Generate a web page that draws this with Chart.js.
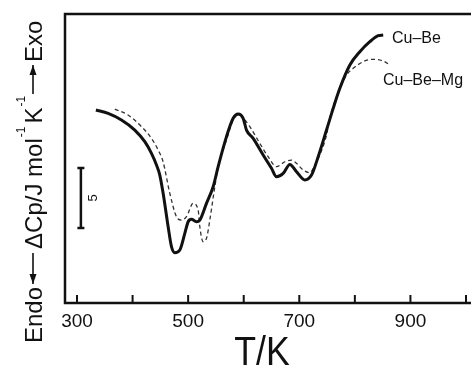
<!DOCTYPE html>
<html>
<head>
<meta charset="utf-8">
<script src="https://cdn.jsdelivr.net/npm/chart.js@4"></script>
<style>
  body { margin: 0; background: #fff; }
  canvas { display: block; }
</style>
</head>
<body>
<canvas id="myChart" width="471" height="369"></canvas>
<script>
// temperature (K) and relative ΔCp (J mol-1 K-1, arbitrary offset)
const cuBeT = [334, 356, 380, 404, 422, 434, 443, 449, 455, 464, 470, 476, 485, 494, 500, 506, 515, 521,
  533, 545, 554, 569, 581, 590, 599, 605, 617, 635, 650, 659, 671, 683, 695, 710, 722, 734, 749, 761,
  773, 791, 809, 827, 842, 851];
const cuBeCp = [16.0, 15.72, 15.17, 14.33, 13.36, 12.39, 11.42, 10.58, 9.06, 6.28, 4.61, 4.11, 4.33, 5.72,
  6.69, 6.89, 6.69, 6.83, 8.22, 9.61, 11.28, 13.78, 15.31, 15.67, 15.31, 14.33, 13.64, 12.25, 11.14,
  10.44, 10.72, 11.47, 10.86, 10.17, 10.58, 12.11, 14.33, 16.14, 17.81, 19.75, 20.86, 21.69, 22.19, 22.25];

const cuBeMgT = [368, 392, 416, 434, 446, 455, 467, 479, 488, 497, 509, 518, 521, 527, 533, 539, 548, 554,
  569, 581, 590, 602, 611, 629, 644, 659, 674, 686, 695, 707, 719, 728, 749, 754, 773, 785, 797, 815,
  833, 851, 863];
const cuBeMgCp = [16.08, 15.58, 14.61, 13.64, 12.67, 11.67, 9.06, 7.11, 6.83, 7.11, 8.22, 7.67, 6.28, 5.03,
  5.31, 6.83, 9.61, 11.28, 13.5, 15.17, 15.63, 15.17, 14.61, 13.22, 12.11, 11.28, 11.69, 11.83, 11.56,
  11.0, 10.78, 11.42, 13.92, 15.17, 17.75, 18.92, 19.47, 20.03, 20.22, 20.08, 19.75];

const tickValues = [300, 400, 500, 600, 700, 800, 900, 1000];
const tickLabels = ['300', '', '500', '', '700', '', '900', ''];

const seriesNames = ['Cu\u2013Be', 'Cu\u2013Be\u2013Mg'];
const scaleBarT = 307;
const scaleBarCp = [6.17, 11.17];
const scaleBarLabel = '5';

function toPoints(xs, ys) {
  return xs.map((x, i) => ({ x: x, y: ys[i] }));
}

function arrow(ctx, u0, u1, y, headAtStart) {
  ctx.beginPath();
  ctx.moveTo(u0, y);
  ctx.lineTo(u1, y);
  ctx.lineWidth = 1.6;
  ctx.stroke();
  const h = headAtStart ? u0 : u1;
  const d = headAtStart ? 1 : -1;
  ctx.beginPath();
  ctx.moveTo(h, y);
  ctx.lineTo(h + d * 10, y - 3.5);
  ctx.lineTo(h + d * 10, y + 3.5);
  ctx.closePath();
  ctx.fill();
}

const decorPlugin = {
  id: 'decor',
  afterDraw(chart) {
    const ctx = chart.ctx;
    const area = chart.chartArea;
    const xs = chart.scales.x;
    const ys = chart.scales.y;
    ctx.save();
    ctx.strokeStyle = '#111';
    ctx.fillStyle = '#111';

    // frame: left, top, bottom
    ctx.lineWidth = 2.5;
    ctx.beginPath();
    ctx.moveTo(area.right, area.top);
    ctx.lineTo(area.left, area.top);
    ctx.lineTo(area.left, area.bottom);
    ctx.lineTo(area.right, area.bottom);
    ctx.stroke();

    // inward ticks
    ctx.lineWidth = 2;
    tickValues.forEach(v => {
      const px = xs.getPixelForValue(v);
      ctx.beginPath();
      ctx.moveTo(px, area.bottom);
      ctx.lineTo(px, area.bottom - 8);
      ctx.stroke();
    });

    // scale bar
    const bx = xs.getPixelForValue(scaleBarT);
    const by0 = ys.getPixelForValue(scaleBarCp[0]);
    const by1 = ys.getPixelForValue(scaleBarCp[1]);
    ctx.lineWidth = 2.5;
    ctx.beginPath();
    ctx.moveTo(bx, by0); ctx.lineTo(bx, by1);
    ctx.moveTo(bx - 3.5, by0); ctx.lineTo(bx + 3.5, by0);
    ctx.moveTo(bx - 3.5, by1); ctx.lineTo(bx + 3.5, by1);
    ctx.stroke();
    ctx.save();
    ctx.translate(bx + 16, (by0 + by1) / 2);
    ctx.rotate(-Math.PI / 2);
    ctx.font = '13px "Liberation Sans", Arial, sans-serif';
    ctx.textAlign = 'center';
    ctx.textBaseline = 'alphabetic';
    ctx.fillText(scaleBarLabel, 0, 0);
    ctx.restore();

    // series labels
    ctx.font = '16px "Liberation Sans", Arial, sans-serif';
    ctx.textAlign = 'left';
    ctx.textBaseline = 'middle';
    ctx.fillText(seriesNames[0], 392, 39);
    ctx.fillText(seriesNames[1], 383, 81);

    // x title
    ctx.save();
    ctx.translate(262, 365);
    ctx.scale(0.87, 1);
    ctx.font = '41px "Liberation Sans", Arial, sans-serif';
    ctx.textAlign = 'center';
    ctx.textBaseline = 'alphabetic';
    ctx.fillText('T/K', 0, 0);
    ctx.restore();

    // y title, drawn bottom to top
    ctx.save();
    ctx.translate(42, 343);
    ctx.rotate(-Math.PI / 2);
    ctx.textAlign = 'left';
    ctx.textBaseline = 'alphabetic';
    const big = '24px "Liberation Sans", Arial, sans-serif';
    const small = '12px "Liberation Sans", Arial, sans-serif';
    let u = 0;
    ctx.font = big;
    ctx.fillText('Endo', u, 0);
    u += ctx.measureText('Endo').width + 3;
    arrow(ctx, u, u + 31, -9, true);
    u += 31 + 4;
    ctx.fillText('\u0394Cp/J mol', u, 0);
    u += ctx.measureText('\u0394Cp/J mol').width + 1;
    ctx.font = small;
    ctx.fillText('-1', u, -17);
    u += ctx.measureText('-1').width + 3;
    ctx.font = big;
    ctx.fillText('K', u, 0);
    u += ctx.measureText('K').width + 1;
    ctx.font = small;
    ctx.fillText('-1', u, -17);
    u += ctx.measureText('-1').width + 2;
    arrow(ctx, u, u + 29, -9, false);
    u += 29 + 3;
    ctx.font = big;
    ctx.fillText('Exo', u, 0);
    ctx.restore();

    ctx.restore();
  }
};

const ctx = document.getElementById('myChart').getContext('2d');
const myChart = new Chart(ctx, {
  type: 'scatter',
  data: {
    datasets: [{
      label: seriesNames[0],
      data: toPoints(cuBeT, cuBeCp),
      showLine: true,
      borderColor: '#111',
      borderWidth: 3,
      pointRadius: 0,
      cubicInterpolationMode: 'monotone'
    }, {
      label: seriesNames[1],
      data: toPoints(cuBeMgT, cuBeMgCp),
      showLine: true,
      borderColor: '#333',
      borderWidth: 1.3,
      borderDash: [4, 3],
      pointRadius: 0,
      cubicInterpolationMode: 'monotone'
    }]
  },
  options: {
    responsive: false,
    animation: false,
    layout: { padding: { top: 14, left: 65, right: 0, bottom: 0 } },
    plugins: { legend: { display: false }, tooltip: { enabled: false } },
    scales: {
      x: {
        type: 'linear',
        min: 278.4,
        max: 1009,
        afterBuildTicks: axis => { axis.ticks = tickValues.map(v => ({ value: v })); },
        afterFit: axis => { axis.height = 66; },
        grid: { display: false },
        border: { display: false },
        ticks: {
          autoSkip: false,
          maxRotation: 0,
          padding: -1,
          color: '#111',
          font: { size: 19, family: '"Liberation Sans", Arial, sans-serif' },
          callback: (value, index) => tickLabels[index]
        }
      },
      y: {
        display: false,
        min: -0.08,
        max: 24
      }
    }
  },
  plugins: [decorPlugin]
});
</script>
</body>
</html>
